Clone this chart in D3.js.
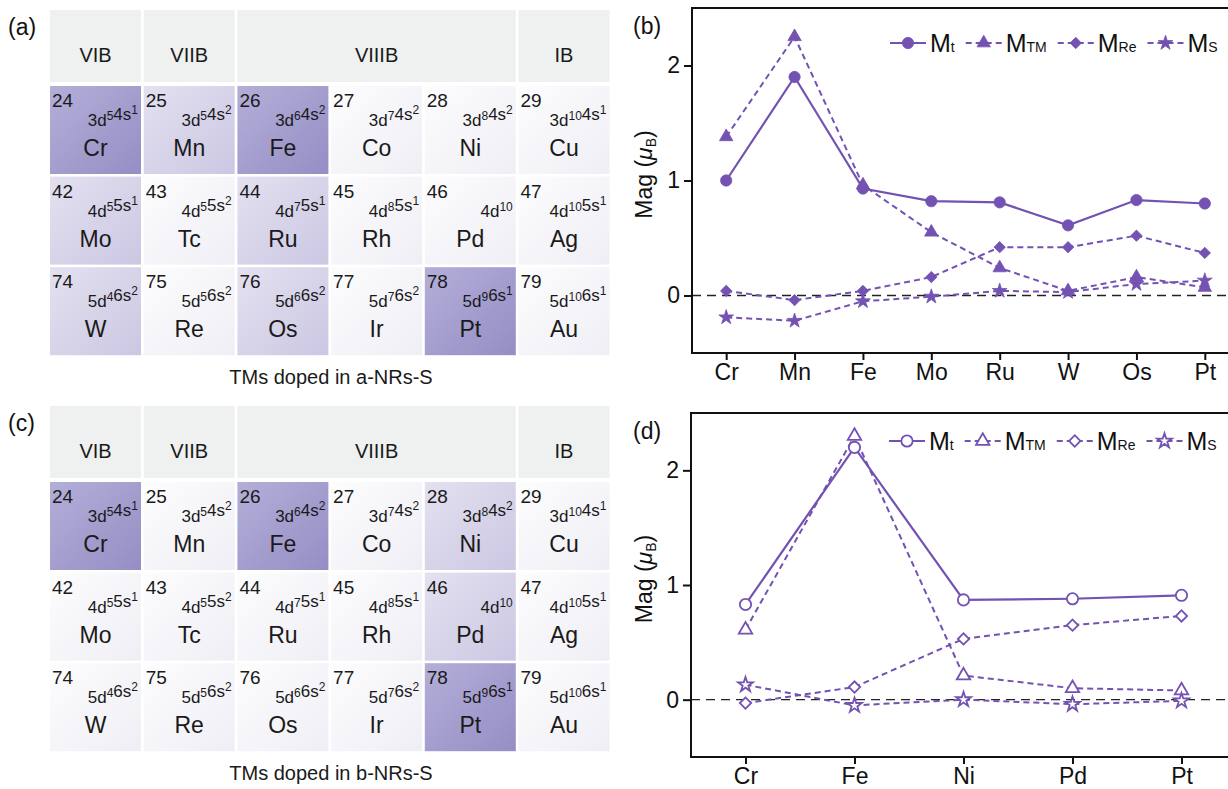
<!DOCTYPE html>
<html>
<head>
<meta charset="utf-8">
<script src="https://cdn.jsdelivr.net/npm/d3@7/dist/d3.min.js"></script>
<style>
  body { margin: 0; background: #fff; }
  svg { display: block; font-family: "Liberation Sans", Arial, sans-serif; }
</style>
</head>
<body>
<svg id="fig" width="1228" height="789"></svg>
<script>
// ---- periodic table data ----
var groups = ['VIB', 'VIIB', 'VIIIB', 'IB'];
var groupSpan = [1, 1, 3, 1];
var atomicNumbers = [
  [24, 25, 26, 27, 28, 29],
  [42, 43, 44, 45, 46, 47],
  [74, 75, 76, 77, 78, 79]
];
var symbols = [
  ['Cr', 'Mn', 'Fe', 'Co', 'Ni', 'Cu'],
  ['Mo', 'Tc', 'Ru', 'Rh', 'Pd', 'Ag'],
  ['W', 'Re', 'Os', 'Ir', 'Pt', 'Au']
];
var configs = [
  [['3d5', '4s1'], ['3d5', '4s2'], ['3d6', '4s2'], ['3d7', '4s2'], ['3d8', '4s2'], ['3d10', '4s1']],
  [['4d5', '5s1'], ['4d5', '5s2'], ['4d7', '5s1'], ['4d8', '5s1'], ['4d10'], ['4d10', '5s1']],
  [['5d4', '6s2'], ['5d5', '6s2'], ['5d6', '6s2'], ['5d7', '6s2'], ['5d9', '6s1'], ['5d10', '6s1']]
];
// shade level of each cell: 0 none, 2 light, 3 strong
var shadeA = [
  [3, 2, 3, 0, 0, 0],
  [2, 0, 2, 0, 0, 0],
  [2, 0, 2, 0, 3, 0]
];
var shadeC = [
  [3, 0, 3, 0, 2, 0],
  [0, 0, 0, 0, 2, 0],
  [0, 0, 0, 0, 3, 0]
];

// ---- magnetic moment data ----
var seriesNames = ['t', 'TM', 'Re', 'S'];
var bCats = ['Cr', 'Mn', 'Fe', 'Mo', 'Ru', 'W', 'Os', 'Pt'];
var bMt  = [1.00, 1.90, 0.93, 0.82, 0.81, 0.61, 0.83, 0.80];
var bMTM = [1.38, 2.25, 0.96, 0.55, 0.24, 0.04, 0.16, 0.07];
var bMRe = [0.04, -0.04, 0.04, 0.16, 0.42, 0.42, 0.52, 0.37];
var bMS  = [-0.19, -0.22, -0.05, -0.01, 0.04, 0.03, 0.10, 0.13];

var dCats = ['Cr', 'Fe', 'Ni', 'Pd', 'Pt'];
var dMt  = [0.83, 2.20, 0.87, 0.88, 0.91];
var dMTM = [0.61, 2.30, 0.21, 0.10, 0.08];
var dMRe = [-0.03, 0.11, 0.53, 0.65, 0.73];
var dMS  = [0.13, -0.05, 0.00, -0.04, -0.01];

var yTicks = [0, 1, 2];

var purple = '#7352b2';
var svg = d3.select('#fig');
var defs = svg.append('defs');

var shadeStops = {
  0: ['#fdfdfe', '#eeeef5'],
  2: ['#e3e1f0', '#cbc7e3'],
  3: ['#b3afd8', '#958ec5']
};
Object.keys(shadeStops).forEach(function (k) {
  var gr = defs.append('linearGradient').attr('id', 'shade' + k)
    .attr('x1', 0).attr('y1', 0).attr('x2', 1).attr('y2', 1);
  gr.append('stop').attr('offset', '0%').attr('stop-color', shadeStops[k][0]);
  gr.append('stop').attr('offset', '100%').attr('stop-color', shadeStops[k][1]);
});

var _drawTable = function (oy, shade, label, caption) {
  var g = svg.append('g').attr('transform', 'translate(0,' + oy + ')');
  var x0 = 50, pitch = 93.7, cw = 91, rowY = 86, rowPitch = 90.6, ch = 88;

  g.append('text').attr('x', 8).attr('y', 35).style('font-size', '23px').attr('fill', '#111').text(label);

  // group header
  var col = 0;
  groups.forEach(function (name, i) {
    var w = groupSpan[i] * pitch - (pitch - cw);
    g.append('rect').attr('x', x0 + col * pitch).attr('y', 10)
      .attr('width', w).attr('height', 72).attr('fill', '#eff0f0');
    g.append('text').attr('x', x0 + col * pitch + w / 2).attr('y', 62)
      .attr('text-anchor', 'middle').style('font-size', '20px').attr('fill', '#1a1a1a')
      .text(name);
    col += groupSpan[i];
  });

  atomicNumbers.forEach(function (row, r) {
    row.forEach(function (num, c) {
      var x = x0 + c * pitch, y = rowY + r * rowPitch;
      g.append('rect').attr('x', x).attr('y', y).attr('width', cw).attr('height', ch)
        .attr('fill', 'url(#shade' + shade[r][c] + ')');
      g.append('text').attr('x', x + 2).attr('y', y + 21)
        .style('font-size', '19px').attr('fill', '#1a1a1a').text(num);

      var t = g.append('text').attr('x', x + cw - 3).attr('y', y + 40)
        .attr('text-anchor', 'end').style('font-size', '17px').attr('fill', '#1a1a1a');
      configs[r][c].forEach(function (part) {
        t.append('tspan').text(part.slice(0, 2));
        t.append('tspan').attr('dy', -6).style('font-size', '12px').text(part.slice(2));
        t.append('tspan').attr('dy', 6).text('');
      });

      g.append('text').attr('x', x + cw / 2).attr('y', y + 70)
        .attr('text-anchor', 'middle').style('font-size', '23px').attr('fill', '#1a1a1a')
        .text(symbols[r][c]);
    });
  });

  g.append('text').attr('x', 331).attr('y', 384).attr('text-anchor', 'middle')
    .style('font-size', '20px').attr('fill', '#1a1a1a').text(caption);
};

var _marker = function (sel, kind, open) {
  var sym = {
    t: d3.symbol(d3.symbolCircle, 100),
    TM: d3.symbol(d3.symbolTriangle, 78),
    Re: d3.symbol(d3.symbolSquare, 64),
    S: d3.symbol(d3.symbolStar, 68)
  }[kind];
  sel.attr('d', sym)
    .attr('fill', open ? '#fff' : purple)
    .attr('stroke', purple)
    .attr('stroke-width', open ? 1.8 : 0.8);
};

var _drawPlot = function (p) {
  var g = svg.append('g');
  var x = d3.scalePoint().domain(p.cats).range([p.left, p.right]).padding(0.5);
  var y = d3.scaleLinear().domain([-0.5, 2.5]).range([p.bottom, p.top]);

  g.append('text').attr('x', 633).attr('y', p.top + 26).style('font-size', '23px').attr('fill', '#111').text(p.label);

  // zero reference line
  g.append('line').attr('x1', p.left).attr('x2', p.right)
    .attr('y1', y(0)).attr('y2', y(0))
    .attr('stroke', '#222').attr('stroke-width', 1.4).attr('stroke-dasharray', '9,6');

  var series = [p.Mt, p.MTM, p.MRe, p.MS];
  var line = d3.line().x(function (d, i) { return x(p.cats[i]); }).y(function (d) { return y(d); });

  series.forEach(function (vals, si) {
    g.append('path').datum(vals).attr('d', line).attr('fill', 'none')
      .attr('stroke', purple).attr('stroke-width', si === 0 ? 2.2 : 2)
      .attr('stroke-dasharray', si === 0 ? null : '6,4');
  });
  series.forEach(function (vals, si) {
    g.selectAll(null).data(vals).enter().append('path')
      .attr('transform', function (d, i) {
        return 'translate(' + x(p.cats[i]) + ',' + y(d) + ')' + (si === 2 ? ' rotate(45)' : '');
      })
      .call(_marker, seriesNames[si], p.open);
  });

  // frame (right edge falls outside the picture)
  g.append('rect').attr('x', p.left).attr('y', p.top)
    .attr('width', p.right - p.left).attr('height', p.bottom - p.top)
    .attr('fill', 'none').attr('stroke', '#111').attr('stroke-width', 2);

  var ya = g.append('g').attr('transform', 'translate(' + p.left + ',0)')
    .call(d3.axisLeft(y).tickValues(yTicks).tickFormat(d3.format('d')).tickSize(8).tickPadding(4));
  var xa = g.append('g').attr('transform', 'translate(0,' + p.bottom + ')')
    .call(d3.axisBottom(x).tickSize(7).tickPadding(4));
  [ya, xa].forEach(function (a) {
    a.select('.domain').remove();
    a.selectAll('line').attr('stroke', '#111').attr('stroke-width', 2);
    a.selectAll('text').style('font-size', '23px').attr('fill', '#111')
      .style('font-family', '"Liberation Sans", Arial, sans-serif');
  });

  var yl = g.append('text')
    .attr('transform', 'translate(652,' + ((p.top + p.bottom) / 2 - 6) + ') rotate(-90)')
    .attr('text-anchor', 'middle').style('font-size', '23px').attr('fill', '#111');
  yl.append('tspan').text('Mag (');
  yl.append('tspan').style('font-style', 'italic').text('\u03bc');
  yl.append('tspan').attr('dy', 4).style('font-size', '14px').text('B');
  yl.append('tspan').attr('dy', -4).text(')');

  // legend
  var lx = p.legendX;
  seriesNames.forEach(function (name, si) {
    var lg = g.append('g');
    lg.append('line').attr('x1', lx).attr('x2', lx + 36)
      .attr('y1', p.legendY).attr('y2', p.legendY)
      .attr('stroke', purple).attr('stroke-width', 2.2)
      .attr('stroke-dasharray', si === 0 ? null : '6,4');
    lg.append('path')
      .attr('transform', 'translate(' + (lx + 18) + ',' + p.legendY + ')' + (si === 2 ? ' rotate(45)' : ''))
      .call(_marker, name, p.open);
    var t = lg.append('text').attr('x', lx + 40).attr('y', p.legendY + 9)
      .style('font-size', '25px').attr('fill', '#111');
    t.append('tspan').text('M');
    t.append('tspan').style('font-size', '14px').text(name);
    lx += 40 + t.node().getComputedTextLength() + 11;
  });
};

_drawTable(0, shadeA, '(a)', 'TMs doped in a-NRs-S');
_drawTable(396, shadeC, '(c)', 'TMs doped in b-NRs-S');

_drawPlot({
  label: '(b)', cats: bCats, Mt: bMt, MTM: bMTM, MRe: bMRe, MS: bMS, open: false,
  left: 692, right: 1239, top: 8, bottom: 353, legendX: 890, legendY: 43
});
_drawPlot({
  label: '(d)', cats: dCats, Mt: dMt, MTM: dMTM, MRe: dMRe, MS: dMS, open: true,
  left: 691, right: 1236, top: 413, bottom: 757, legendX: 889, legendY: 441
});
</script>
</body>
</html>
